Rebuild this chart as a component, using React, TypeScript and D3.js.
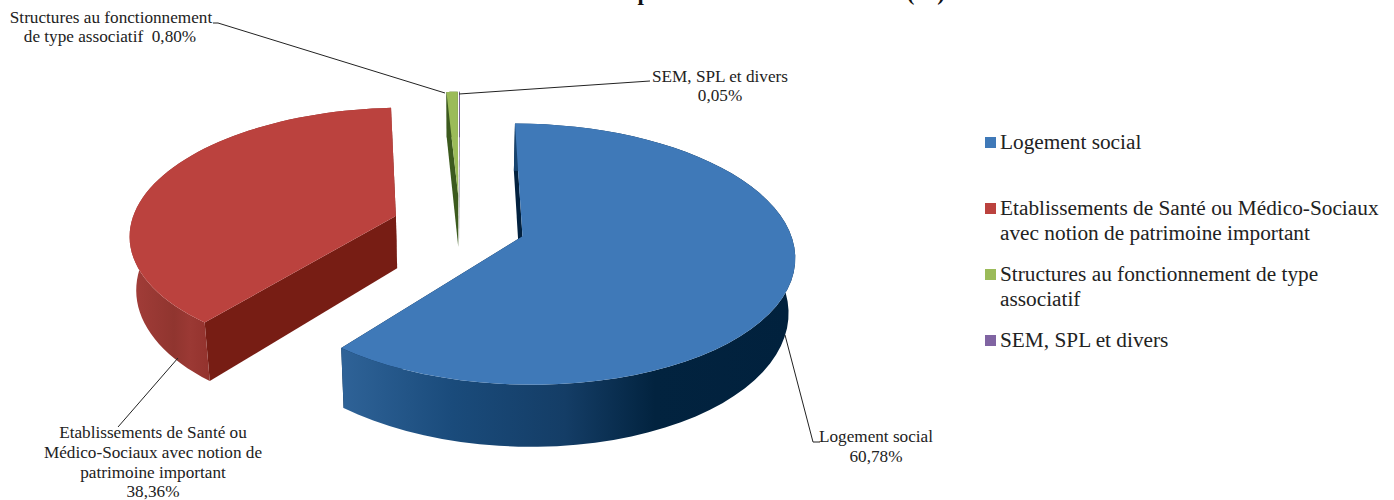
import * as d3 from 'd3'

const categories = [
  'Logement social',
  'Etablissements de Santé ou Médico-Sociaux avec notion de patrimoine important',
  'Structures au fonctionnement de type associatif',
  'SEM, SPL et divers',
]
const shares = [60.78, 38.36, 0.8, 0.05]
const topColors = ['#3f79b8', '#bb423e', '#9bbb59', '#8064a2']
const innerColors = ['#02213f', '#771d14', '#3c5a1e', '#3f2d58']

const legendLines = [
  ['Logement social'],
  ['Etablissements de Santé ou Médico-Sociaux', 'avec notion de patrimoine important'],
  ['Structures au fonctionnement de type', 'associatif'],
  ['SEM, SPL et divers'],
]

// Projection du disque (u, v) vers l'écran, avec perspective
const cx = 460
const cy = 225.8
const rx = 262
const ry = 125.3
const k = 0.135
const depth = 53
const shrink = 0.98
const explode = [0.25, 0.26, 0.25, 0.25]
const stretchX = [1.015, 1.013, 1, 1]

const project = (u: number, v: number, z = 0): [number, number] => {
  const s = 1 / (1 - k * v)
  const x = cx + rx * u * s
  const y = cy + ry * v * s
  if (z === 0) return [x, y]
  return [cx + (x - cx) * shrink, y + depth * s]
}

const pie = d3
  .pie<number>()
  .sort(null)
  .value((d) => d)
const slices = pie(shares)

const wallStops = [
  [
    ['0%', '#2f6398'],
    ['25%', '#1a4b7b'],
    ['50%', '#143d66'],
    ['70%', '#02233f'],
    ['100%', '#01213d'],
  ],
  [
    ['0%', '#a33d39'],
    ['55%', '#90352f'],
    ['75%', '#9b3934'],
    ['100%', '#93322d'],
  ],
]

const pathOf = d3.line()

function Slice({ index }: { index: number }) {
  const slice = slices[index]
  const mid = (slice.startAngle + slice.endAngle) / 2
  const ou = explode[index] * Math.sin(mid)
  const ov = -explode[index] * Math.cos(mid)
  const angles = d3.range(0, 61).map((i) => slice.startAngle + ((slice.endAngle - slice.startAngle) * i) / 60)
  const rim = (z: number) =>
    angles.map((a) => project(ou + Math.sin(a) * stretchX[index], ov - Math.cos(a), z))
  const apex = (z: number) => project(ou, ov, z)
  const rimTop = rim(0)
  const rimBottom = rim(1)
  const n = rimTop.length - 1
  const wallFill = index < 2 ? `url(#wall${index})` : innerColors[index]
  return (
    <g>
      <path d={pathOf([rimTop[0], apex(0), apex(1), rimBottom[0]]) + 'Z'} fill={innerColors[index]} />
      <path d={pathOf([rimTop[n], apex(0), apex(1), rimBottom[n]]) + 'Z'} fill={innerColors[index]} />
      <path d={pathOf([...rimTop, ...[...rimBottom].reverse()]) + 'Z'} fill={wallFill} />
      <path d={pathOf([apex(0), ...rimTop]) + 'Z'} fill={topColors[index]} />
    </g>
  )
}

const serif = '"Liberation Serif", "Times New Roman", serif'

export default function App() {
  return (
    <svg
      width={1394}
      height={500}
      viewBox="0 0 1394 500"
      style={{ position: 'absolute', left: 0, top: 0, display: 'block', fontFamily: serif }}
    >
      <defs>
        <linearGradient id="wall0" gradientUnits="userSpaceOnUse" x1={340} x2={790} y1={0} y2={0}>
          {wallStops[0].map(([o, c]) => (
            <stop key={o} offset={o} stopColor={c} />
          ))}
        </linearGradient>
        <linearGradient id="wall1" gradientUnits="userSpaceOnUse" x1={130} x2={210} y1={0} y2={0}>
          {wallStops[1].map(([o, c]) => (
            <stop key={o} offset={o} stopColor={c} />
          ))}
        </linearGradient>
      </defs>

      <text x={945} y={0} textAnchor="end" fontSize={23} fontWeight="bold" fill="#111">
        Part du total de la prévision d'achat de l'offre (%)
      </text>

      {[3, 2, 1, 0].map((i) => (
        <Slice key={categories[i]} index={i} />
      ))}

      {/* Lignes de repère */}
      <g fill="none" stroke="#222" strokeWidth={1}>
        <path d={pathOf([[213, 23], [218, 23], [445, 93]]) ?? ''} />
        <path d={pathOf([[650, 81], [459, 94]]) ?? ''} />
        <path d={pathOf([[178, 358], [118, 427]]) ?? ''} />
        <path d={pathOf([[785, 335], [813, 442], [820, 442]]) ?? ''} />
      </g>

      {/* Étiquettes */}
      <g fontSize={17.2} fill="#222" textAnchor="middle">
        <text x={111} y={23}>Structures au fonctionnement</text>
        <text x={110} y={42}>de type associatif{'\u00A0\u00A0'}0,80%</text>
        <text x={720} y={82}>SEM, SPL et divers</text>
        <text x={720} y={101}>0,05%</text>
        <text x={153} y={438}>Etablissements de Santé ou</text>
        <text x={153} y={458}>Médico-Sociaux avec notion de</text>
        <text x={153} y={478}>patrimoine important</text>
        <text x={153} y={497}>38,36%</text>
        <text x={876} y={442}>Logement social</text>
        <text x={876} y={462}>60,78%</text>
      </g>

      {/* Légende */}
      <g fontSize={21.3} fill="#222">
        {legendLines.map((lines, i) => {
          const tops = [149, 215, 281, 347]
          return (
            <g key={i}>
              <rect x={985} y={tops[i] - 12} width={11} height={11} fill={topColors[i]} />
              {lines.map((line, j) => (
                <text key={line} x={1000} y={tops[i] + j * 25}>
                  {line}
                </text>
              ))}
            </g>
          )
        })}
      </g>
    </svg>
  )
}
